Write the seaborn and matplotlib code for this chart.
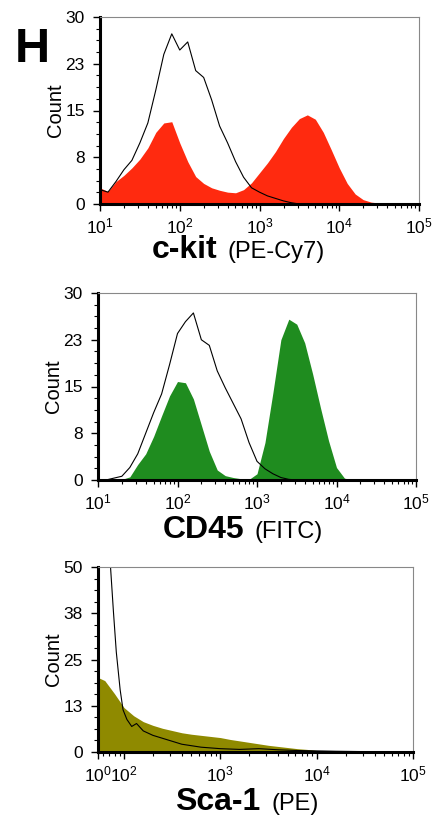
import matplotlib
matplotlib.use("Agg")
import matplotlib.pyplot as plt
import numpy as np
import seaborn as sns
from matplotlib.ticker import FixedLocator, LogLocator, MultipleLocator, NullFormatter

# log10 fluorescence positions (upper two panels)
grid_upper = [1.0, 1.1, 1.2, 1.3, 1.4, 1.5, 1.6, 1.7, 1.8, 1.9,
              2.0, 2.1, 2.2, 2.3, 2.4, 2.5, 2.6, 2.7, 2.8, 2.9,
              3.0, 3.1, 3.2, 3.3, 3.4, 3.5, 3.6, 3.7, 3.8, 3.9,
              4.0, 4.1, 4.2, 4.3, 4.4, 4.5, 4.6, 4.7, 4.8, 4.9, 5.0]

# c-kit (PE-Cy7)
ckit_stained = [2.6, 2.0, 3.6, 4.6, 5.8, 7.2, 9.0, 11.5, 13.0, 13.2,
                9.8, 6.8, 4.4, 3.3, 2.6, 2.2, 1.9, 1.8, 2.3, 3.4,
                5.0, 6.6, 8.4, 10.5, 12.3, 13.7, 14.3, 13.6, 11.5, 8.7,
                5.8, 3.3, 1.6, 0.7, 0.3, 0.15, 0.05, 0, 0, 0, 0]
ckit_control = [2.3, 1.9, 3.6, 5.5, 7.0, 9.8, 13.0, 18.3, 24.0, 27.3,
                24.7, 26.0, 21.4, 20.3, 16.7, 12.5, 9.8, 6.8, 4.3, 2.6,
                1.9, 1.3, 0.9, 0.5, 0.2, 0, 0, 0, 0, 0,
                0, 0, 0, 0, 0, 0, 0, 0, 0, 0, 0]

# CD45 (FITC)
cd45_stained = [0, 0, 0, 0.1, 0.5, 2.5, 4.2, 7.0, 10.3, 13.5,
                15.8, 15.6, 13.0, 8.8, 4.6, 1.6, 0.7, 0.4, 0.2, 0.1,
                1.0, 6.0, 14.0, 22.5, 25.8, 25.0, 22.0, 17.0, 11.5, 6.3,
                2.0, 0.3, 0, 0, 0, 0, 0, 0, 0, 0, 0]
cd45_control = [0, 0, 0.3, 0.6, 2.0, 4.2, 7.5, 10.8, 13.8, 18.5,
                23.5, 25.4, 26.8, 22.5, 21.6, 17.5, 14.8, 12.3, 9.8, 6.0,
                3.0, 1.8, 1.0, 0.4, 0.1, 0, 0, 0, 0, 0,
                0, 0, 0, 0, 0, 0, 0, 0, 0, 0, 0]

# Sca-1 (PE)
grid_sca = [1.7, 1.8, 1.9, 2.0, 2.1, 2.2, 2.3, 2.4, 2.5, 2.6,
            2.7, 2.8, 2.9, 3.0, 3.1, 3.2, 3.3, 3.4, 3.5, 3.6,
            3.7, 3.8, 3.9, 4.0, 4.1, 4.2, 4.3, 4.4, 4.5, 4.6,
            4.7, 4.8, 4.9, 5.0]
sca_stained = [20.5, 19.3, 15.8, 12.0, 9.8, 8.2, 7.2, 6.4, 5.8, 5.2,
               4.8, 4.5, 4.2, 3.9, 3.4, 3.0, 2.6, 2.2, 1.8, 1.5,
               1.2, 0.9, 0.7, 0.4, 0.1, 0, 0, 0, 0, 0,
               0, 0, 0, 0]
grid_sca_ctrl = [1.73, 1.80, 1.86, 1.89, 1.92, 1.96, 1.99, 2.03, 2.08, 2.13,
                 2.2, 2.3, 2.4, 2.5, 2.6, 2.7, 2.8, 3.0, 3.2, 3.4,
                 3.6, 3.8, 4.0, 4.2, 4.5, 5.0]
sca_control = [65, 62, 50, 38, 27, 16.8, 11.4, 8.8, 6.9, 7.7,
               5.7, 4.5, 3.7, 2.9, 2.1, 1.7, 1.3, 0.9, 0.7, 0.9,
               0.6, 0.4, 0.3, 0.2, 0.1, 0.1]

xticks_upper = ["$10^{1}$", "$10^{2}$", "$10^{3}$", "$10^{4}$", "$10^{5}$"]
xticks_sca = ["$10^{0}$", "$10^{2}$", "$10^{3}$", "$10^{4}$", "$10^{5}$"]
yticks_30 = ["0", "8", "15", "23", "30"]
yticks_50 = ["0", "13", "25", "38", "50"]

sns.set_style("white")
plt.rcParams["font.family"] = ["Liberation Sans", "DejaVu Sans"]
plt.rcParams["mathtext.fontset"] = "custom"
plt.rcParams["mathtext.rm"] = "Liberation Sans"
plt.rcParams["mathtext.default"] = "regular"
plt.rcParams["text.color"] = "black"
plt.rcParams["xtick.color"] = "black"
plt.rcParams["ytick.color"] = "black"

W, H = 437, 824
fig = plt.figure(figsize=(W / 100, H / 100), dpi=100)


def px_axes(left, top, right, bottom):
    return fig.add_axes([left / W, 1 - bottom / H, (right - left) / W, (bottom - top) / H])


def style(ax, xmin, xlabels, ymax, ylabels):
    ax.set_xscale("log")
    ax.set_xlim(xmin, 1e5)
    ax.set_ylim(0, ymax)
    ax.xaxis.set_major_locator(FixedLocator([xmin, 1e2, 1e3, 1e4, 1e5]))
    ax.set_xticklabels(xlabels)
    ax.xaxis.set_minor_locator(LogLocator(base=10, subs=np.arange(2, 10), numticks=20))
    ax.xaxis.set_minor_formatter(NullFormatter())
    ax.yaxis.set_major_locator(FixedLocator(np.linspace(0, ymax, 5)))
    ax.set_yticklabels(ylabels)
    ax.yaxis.set_minor_locator(MultipleLocator(ymax / 16))
    ax.tick_params(which="major", direction="out", length=5, width=1, color="black",
                   labelsize=12.5, labelcolor="black", left=True, bottom=True)
    ax.tick_params(which="minor", direction="out", length=3, width=0.8, color="black",
                   left=True, bottom=True)
    ax.tick_params(axis="x", which="major", pad=4)
    ax.tick_params(axis="y", which="major", pad=6)
    for side in ["top", "right"]:
        ax.spines[side].set_color("#888888")
        ax.spines[side].set_linewidth(0.8)
    for side in ["left", "bottom"]:
        ax.spines[side].set_color("black")
        ax.spines[side].set_linewidth(2.2)
    ax.set_xlabel("")
    ax.set_ylabel("")


renderer = fig.canvas.get_renderer()


def xlabel(x, y, bold, rest, gap):
    t1 = fig.text(x / W, 1 - y / H, bold, fontsize=23, fontweight="bold", va="baseline")
    ext = t1.get_window_extent(renderer=renderer)
    fig.text((ext.x1 + gap) / W, 1 - y / H, rest, fontsize=17, va="baseline")


def count_label(x, y):
    fig.text(x / W, 1 - y / H, "Count", fontsize=14.5, rotation=90, ha="center", va="center")


# panel 1: c-kit
ax1 = px_axes(100, 17, 419, 204)
x_up = 10 ** np.array(grid_upper)
ax1.fill_between(x_up, ckit_stained, color="#ff2a0f", lw=0)
sns.lineplot(x=x_up, y=ckit_control, color="black", lw=0.8, ax=ax1, legend=False)
style(ax1, 10, xticks_upper, 30, yticks_30)
xlabel(152, 258, "c-kit", "(PE-Cy7)", 10)
count_label(55, 110)

# panel 2: CD45
ax2 = px_axes(98, 293, 416, 480)
ax2.fill_between(x_up, cd45_stained, color="#1f8c1f", lw=0)
sns.lineplot(x=x_up, y=cd45_control, color="black", lw=0.8, ax=ax2, legend=False)
style(ax2, 10, xticks_upper, 30, yticks_30)
xlabel(163, 538, "CD45", "(FITC)", 10)
count_label(54, 386)

# panel 3: Sca-1
ax3 = px_axes(98, 567, 413, 752)
ax3.fill_between(10 ** np.array(grid_sca), sca_stained, color="#8f8a00", lw=0)
sns.lineplot(x=10 ** np.array(grid_sca_ctrl), y=sca_control, color="black", lw=0.8,
             ax=ax3, legend=False)
style(ax3, 10 ** 1.73, xticks_sca, 50, yticks_50)
xlabel(175, 810, "Sca-1", "(PE)", 11)
count_label(54, 659)

fig.text(15 / W, 1 - 62 / H, "H", fontsize=35, fontweight="bold", va="baseline")

fig.savefig("out.png", dpi=100)
